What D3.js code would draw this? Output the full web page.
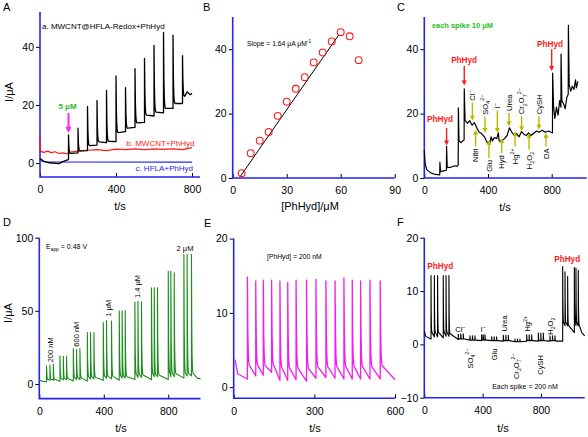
<!DOCTYPE html>
<html>
<head>
<meta charset="utf-8">
<script src="https://cdn.jsdelivr.net/npm/d3@7"></script>
<style>
  body { margin: 0; background: #fff; }
  text { font-family: "Liberation Sans", Arial, sans-serif; }
</style>
</head>
<body>
<script>
// ---------- data ----------
// A: current vs time, three electrodes
const aTicksX = [0, 400, 800];
const aTicksY = [0, 20, 40];
const aRed = [[0, 9.5], [3, 4], [20, 3.7], [40, 4.1], [60, 3.6], [80, 3.9], [100, 3.3], [120, 3.5], [140, 3.2],
  [160, 3.8], [200, 4.1], [250, 4.4], [300, 4.6], [350, 4.3], [400, 4.8], [450, 4.6], [500, 4.9],
  [550, 4.6], [600, 4.9], [650, 4.7], [700, 4.9], [750, 4.6], [800, 5.3]];
const aBlue = [[0, 1.6], [8, 0.7], [30, 0.4], [800, 0.35]];
const aBlackLead = [[0, 1.6], [20, 0.6], [50, 0.1], [100, -0.2], [120, 0.5], [148, 1.2]];
// [t, level before, peak, level after]
const aBlackSpikes = [[150, 1.2, 9.7, 3.3], [200, 3.5, 12, 4.2], [250, 4.3, 19.5, 6], [300, 6.2, 21.5, 7.3],
  [350, 7, 25, 7.5], [400, 7.4, 30, 10.5], [450, 10.8, 26, 12], [500, 12.3, 32.5, 13.8],
  [550, 14, 36, 16.5], [600, 16.2, 40.5, 17.5], [650, 17.3, 45, 18.8], [700, 18.8, 44, 20.5],
  [750, 20.5, 37, 23]];
const aBlackTail = [[775, 24.5], [790, 23.5], [800, 24]];
const aArrow = [150, 17.2, 10.4];

// B: calibration
const bTicksX = [0, 30, 60, 90];
const bTicksY = [0, 20, 40];
const bConc = [5, 10, 15, 20, 25, 30, 35, 40, 45, 50, 55, 60, 65, 70];
const bCurrent = [1.5, 7.7, 11.6, 14.3, 19.3, 23.7, 27.7, 31.3, 35.9, 39, 42.4, 45.3, 44, 36.6];
const bFit = [[4, 0.3], [59, 44.5]];

// C: interference study
const cTicksX = [0, 400, 800];
const cTicksY = [0, 20, 40];
const cTrace = [[0, 8.6], [5, 4.5], [15, 2.6], [40, 1.6], [70, 1.1], [97, 1.0], [98, 4.9], [102, 2.0], [120, 2.2],
  [139, 2.4], [140, 9.8], [144, 3.2], [170, 3.4], [190, 3.8], [205, 3.6], [213, 4.0], [214, 21.8], [218, 11.5],
  [230, 11], [240, 11.5], [250, 11.8], [251, 27.7], [256, 18], [270, 17], [285, 17.8], [300, 16.4], [315, 17.2],
  [330, 15.5], [345, 14.2], [360, 13.8], [380, 12.6], [395, 11], [410, 10.5], [420, 12.8], [428, 11.5],
  [440, 12.6], [455, 12.2], [465, 14], [470, 11.5], [490, 11.6], [505, 12.3], [520, 13.2], [535, 15.6],
  [550, 14.2], [565, 13.3], [580, 13.8], [595, 12.8], [610, 14.4], [625, 13.6], [640, 13.2], [655, 14],
  [670, 13.2], [690, 14], [705, 14.6], [720, 14.2], [740, 14.8], [760, 14.2], [780, 14.6], [805, 14],
  [806, 32.6], [812, 22], [820, 18.5], [830, 22], [840, 19.5], [850, 24], [858, 22], [859, 38.5], [864, 24],
  [875, 23], [885, 21.5], [895, 25], [904, 26], [905, 47.4], [910, 29], [920, 27], [930, 28.5], [940, 27.5],
  [950, 30.5], [955, 28], [965, 30]];
// [label, t, arrow start, arrow tip]
const cDown = [["Cl^{−}", 302, 23.4, 17.8], ["SO_{4}^{2−}", 381, 19, 14], ["I^{−}", 459, 21, 14],
  ["Urea", 532, 20.2, 16], ["Cr_{2}O_{7}^{2−}", 611, 19.2, 14.5], ["CySH", 720, 19.2, 15]];
const cUp = [["Nitri", 322, 9.8, 15], ["Glu", 406, 6.2, 11.9], ["Hyd", 486, 7.7, 12.4],
  ["Hg^{2+}", 570, 9.8, 14.5], ["H_{2}O_{2}", 658, 8.75, 14], ["DA", 764, 9.8, 14]];
// [arrow t, start, tip, label t, label level]
const cPhHyd = [[140, 15.5, 10.1, 99, 17.5], [251, 34.8, 28.7, 250, 35.8], [800, 40, 33.2, 790, 40.7]];

// D: successive additions
const dTicksX = [0, 400, 800];
const dTicksY = [0, 50, 100];
const dLead = [[0, 2.8], [20, 1.8], [44, 1.5]];
const dSpikes = [
  [45, 1.5, 12.5, 3], [66, 2.5, 13, 3], [87, 2.5, 13.6, 3],
  [128, 1.8, 19.3, 3.5], [149, 2.8, 18.9, 3.5], [169, 2.8, 18.9, 3.5],
  [211, 2, 24.3, 4], [231, 3, 23.5, 4], [252, 3, 24.3, 4],
  [298, 2, 35.2, 4.5], [318, 3.5, 35.2, 4.5], [339, 3.5, 35.2, 4.5],
  [397, 2.5, 42, 5], [417, 4, 43.4, 5], [448, 3.5, 43, 5],
  [496, 2.5, 50, 5], [514, 4, 50, 5], [533, 4, 50, 5],
  [593, 3, 56, 6], [612, 4.5, 56.5, 6], [634, 4.5, 56, 6],
  [696, 3, 65.7, 6], [713, 5, 66, 6], [733, 5, 66, 6],
  [800, 3, 77, 7], [816, 5, 77, 7], [837, 5, 76, 7],
  [897, 4, 88.6, 7], [917, 5.5, 88.5, 7], [944, 5.5, 88.6, 7]];
const dTail = [[980, 4], [1000, 3.5]];
// [label, t, level]
const dLabels = [["200 nM", 66, 14.8], ["600 nM", 228, 25.5], ["1 μM", 428, 46], ["1.4 μM", 608, 58.8]];

// E: repeatability
const eTicksX = [0, 300, 600];
const eTicksY = [0, 10, 20];
const eLead = [[5, 3.7], [15, 1.8], [50, 1.1]];
const eSpikes = [[51, 1.1, 14.8, 2.8], [82, 1.5, 14.3, 2.8], [110, 1.6, 14.4, 2.8], [141, 2.0, 14.4, 2.8],
  [172, 0.9, 14.3, 2.4], [201, 0.9, 14.1, 2.4], [232, 1.0, 14.4, 2.4], [271, 0.8, 14.4, 2.4],
  [306, 1.2, 14.5, 2.6], [343, 1.3, 14.3, 2.6], [377, 1.2, 14.3, 2.6], [410, 1.1, 14.7, 2.6],
  [441, 1.1, 14.4, 2.6], [472, 1.1, 14.3, 2.6], [507, 1.1, 14.4, 2.6], [545, 1.1, 14.3, 2.8]];
const eTail = [[600, 1.0]];

// F: interference at 200 nM
const fTicksX = [0, 400, 800];
const fTicksY = [-10, 0, 10, 20];
const fLead = [[0, 2.5], [10, 1.5], [45, 1.0]];
const fSpikes = [
  [46, 1.0, 12.9, 2.2], [69, 1.4, 12.9, 2.2], [91, 1.4, 12.9, 2.2],
  [130, 1.2, 12.9, 2.2], [149, 1.5, 12.9, 2.2], [169, 1.5, 12.9, 2.0],
  [233, 0.9, 1.9, 1.0], [250, 1.0, 2.0, 1.0], [267, 1.0, 2.0, 1.0],
  [313, 0.8, 1.6, 0.8], [330, 0.8, 1.6, 0.8], [347, 0.8, 1.6, 0.8],
  [393, 0.7, 1.8, 0.8], [404, 0.8, 1.8, 0.8], [416, 0.8, 1.8, 0.8],
  [462, 0.7, 1.4, 0.7], [479, 0.7, 1.4, 0.7], [496, 0.7, 1.4, 0.7],
  [542, 0.6, 1.7, 0.7], [559, 0.7, 1.7, 0.7], [576, 0.7, 1.7, 0.7],
  [622, 0.5, 1.0, 0.5], [639, 0.5, 1.0, 0.5], [656, 0.5, 1.0, 0.5],
  [702, 0.6, 1.8, 0.7], [719, 0.7, 1.8, 0.7], [736, 0.7, 1.8, 0.7],
  [782, 0.6, 2.1, 0.7], [799, 0.7, 2.1, 0.7], [816, 0.7, 2.1, 0.7],
  [862, 0.6, 1.6, 0.7], [879, 0.7, 1.6, 0.7], [896, 0.7, 1.6, 0.6],
  [949, 0.6, 14.6, 4], [965, 3.5, 13.6, 4], [983, 3.5, 12.7, 3.5],
  [1029, 2.2, 14.4, 4], [1040, 3.5, 14.3, 4], [1056, 3.5, 13.9, 3.5]];
const fTail = [[1080, 2.2], [1100, 1.6]];
// [label, t, level, placement]
const fLabels = [["Cl^{−}", 247, 2.3, "h"], ["I^{−}", 404, 2.3, "h"], ["Urea", 549, 2.4, "up"],
  ["Hg^{2+}", 709, 2.4, "up"], ["H_{2}O_{2}", 866, 1.8, "up"], ["SO_{4}^{2−}", 313, -0.8, "down"],
  ["Glu", 480, -0.8, "down"], ["Cr_{2}O_{7}^{2−}", 629, -1.7, "down"], ["CySH", 798, -2, "down"]];
const fPhHyd = [[110, 14.2], [980, 15.4]];

// ---------- drawing ----------
const BLUE = '#2424f0', RED = '#ff1a1a', OLIVE = '#b8b800', GREEN = '#22c022';
const svg = d3.select('body').append('svg').attr('width', 588).attr('height', 437);

function panel(o) {
  const x = d3.scaleLinear().domain(o.xd).range(o.xr);
  const y = d3.scaleLinear().domain(o.yd).range(o.yr);
  const g = svg.append('g');
  g.append('g').attr('transform', `translate(0,${o.yr[0]})`)
    .call(d3.axisBottom(x).tickValues(o.xt).tickSize(-4).tickPadding(9))
    .call(a => a.select('.domain').remove());
  g.append('g').attr('transform', `translate(${o.xr[0]},0)`)
    .call(d3.axisLeft(y).tickValues(o.yt).tickSize(4).tickPadding(2))
    .call(a => a.select('.domain').remove());
  g.selectAll('.tick text').attr('font-size', 10.5).attr('font-family', '"Liberation Sans", Arial, sans-serif').attr('fill', '#000');
  g.selectAll('.tick line').attr('stroke', '#000');
  g.append('path')
    .attr('d', `M${o.xr[0]},${o.yr[1]}V${o.yr[0]}H${o.xr[1]}`)
    .attr('fill', 'none').attr('stroke', BLUE).attr('stroke-width', 1.6);
  return { x, y, g };
}

function spikeTrace(lead, spikes, tail, span) {
  const pts = lead.slice();
  spikes.forEach(([t, before, peak, after]) => {
    pts.push([t, before], [t, peak]);
    for (let k = 1; k <= 6; k++) {
      const f = k / 6;
      pts.push([t + span * f, after + (peak - after) * Math.exp(-4.5 * f) * (1 - f)]);
    }
  });
  return pts.concat(tail);
}

function drawLine(p, pts, color, w) {
  p.g.append('path').datum(pts)
    .attr('d', d3.line().x(d => p.x(d[0])).y(d => p.y(d[1])))
    .attr('fill', 'none').attr('stroke', color).attr('stroke-width', w).attr('stroke-linejoin', 'round');
}

function rich(sel, str, fs) {
  const parts = str.match(/_\{[^}]*\}|\^\{[^}]*\}|[^_^]+/g);
  let off = 0;
  parts.forEach(s => {
    let shift = 0, txt = s, size = fs;
    if (s[0] === '_') { shift = fs * 0.3; txt = s.slice(2, -1); size = fs * 0.7; }
    else if (s[0] === '^') { shift = -fs * 0.45; txt = s.slice(2, -1); size = fs * 0.7; }
    sel.append('tspan').attr('dy', shift - off).attr('font-size', size).text(txt);
    off = shift;
  });
  return sel;
}

function label(g, x, y, str, o = {}) {
  const fs = o.size || 8;
  const t = g.append('text').attr('x', x).attr('y', y).attr('font-size', fs)
    .attr('fill', o.color || '#000').attr('text-anchor', o.anchor || 'start')
    .attr('font-weight', o.bold ? 'bold' : 'normal');
  return rich(t, str, fs);
}

// vertical text, reads bottom to top; cx is the column centre
function vlabel(g, cx, y, str, anchor, fs = 7) {
  const t = g.append('text').attr('transform', `translate(${cx + fs * 0.35},${y}) rotate(-90)`)
    .attr('font-size', fs).attr('text-anchor', anchor).attr('fill', '#000');
  return rich(t, str, fs);
}

function arrow(g, x, y1, y2, color, w, head) {
  const dir = y2 > y1 ? 1 : -1;
  g.append('line').attr('x1', x).attr('x2', x).attr('y1', y1).attr('y2', y2 - dir * head * 0.8)
    .attr('stroke', color).attr('stroke-width', w);
  g.append('path')
    .attr('d', `M${x - head / 2},${y2 - dir * head}L${x + head / 2},${y2 - dir * head}L${x},${y2}Z`)
    .attr('fill', color);
}

function title(g, x, y, txt) {
  g.append('text').attr('x', x).attr('y', y).attr('font-size', 11).attr('text-anchor', 'middle').text(txt);
}
function yTitle(g, x, y, txt) {
  g.append('text').attr('transform', `translate(${x},${y}) rotate(-90)`).attr('font-size', 11)
    .attr('text-anchor', 'middle').text(txt);
}
function letter(x, y, txt) {
  svg.append('text').attr('x', x).attr('y', y).attr('font-size', 11).text(txt);
}

// ----- A -----
const A = panel({ xd: [0, 842], xr: [40, 200], yd: [-4.8, 52], yr: [177, 12], xt: aTicksX, yt: aTicksY });
drawLine(A, aBlue, BLUE, 1.2);
drawLine(A, aRed, RED, 1.2);
drawLine(A, spikeTrace(aBlackLead, aBlackSpikes, aBlackTail, 12), '#000', 1.3);
arrow(A.g, A.x(aArrow[0]), A.y(aArrow[1]), A.y(aArrow[2]), '#ff20ff', 2, 6);
label(A.g, A.x(145), A.y(18.6), '5 μM', { color: GREEN, bold: true, anchor: 'middle' });
label(A.g, 42, 28.5, 'a. MWCNT@HFLA-Redox+PhHyd');
label(A.g, 194.5, 145.7, 'b. MWCNT+PhHyd', { color: RED, anchor: 'end' });
label(A.g, 193, 170.5, 'c. HFLA+PhHyd', { color: BLUE, anchor: 'end' });
title(A.g, 120, 210, 't/s');
yTitle(A.g, 13, 92, 'I/μA');
letter(3, 11, 'A');

// ----- B -----
const B = panel({ xd: [0, 90], xr: [232.7, 394.7], yd: [0, 50], yr: [178, 17], xt: bTicksX, yt: bTicksY });
drawLine(B, bFit, '#000', 1);
B.g.selectAll('circle.pt').data(bConc).enter().append('circle').attr('class', 'pt')
  .attr('cx', d => B.x(d)).attr('cy', (d, i) => B.y(bCurrent[i])).attr('r', 3.4)
  .attr('fill', 'none').attr('stroke', RED).attr('stroke-width', 1.1);
label(B.g, 247, 46, 'Slope = 1.64 μA μM^{-1}', { size: 6.8 });
title(B.g, 310, 210, '[PhHyd]/μM');
letter(203, 11, 'B');

// ----- C -----
const C = panel({ xd: [0, 1020], xr: [424.3, 586.7], yd: [0, 50], yr: [178, 17], xt: cTicksX, yt: cTicksY });
drawLine(C, cTrace, '#000', 1.2);
cDown.forEach(([name, t, a, b]) => {
  arrow(C.g, C.x(t), C.y(a), C.y(b), OLIVE, 1.4, 5);
  vlabel(C.g, C.x(t), C.y(a) - 2, name, 'start', 7.6);
});
cUp.forEach(([name, t, a, b]) => {
  arrow(C.g, C.x(t), C.y(a), C.y(b), OLIVE, 1.4, 5);
  vlabel(C.g, C.x(t), C.y(a) + 2, name, 'end', 7.6);
});
cPhHyd.forEach(([t, a, b, lt, ly]) => {
  arrow(C.g, C.x(t), C.y(a), C.y(b), RED, 1.4, 5);
  label(C.g, C.x(lt), C.y(ly), 'PhHyd', { color: RED, bold: true, anchor: 'middle', size: 8.2 });
});
label(C.g, 432, 27.5, 'each spike 10 μM', { color: GREEN, bold: true, size: 7.4 });
title(C.g, 505, 211, 't/s');
letter(397, 11, 'C');

// ----- D -----
const D = panel({ xd: [0, 1000], xr: [39.3, 200.5], yd: [-10, 100], yr: [398.6, 237.7], xt: dTicksX, yt: dTicksY });
drawLine(D, spikeTrace(dLead, dSpikes, dTail, 12), '#1e8c1e', 1.1);
dLabels.forEach(([name, t, v]) => vlabel(D.g, D.x(t), D.y(v), name, 'start', 7.5));
label(D.g, D.x(904), D.y(91), '2 μM', { anchor: 'middle', size: 7.5 });
label(D.g, 46, 248.5, 'E_{app} = 0.48 V', { size: 7 });
title(D.g, 121, 432, 't/s');
yTitle(D.g, 12, 313, 'I/μA');
letter(3, 226, 'D');

// ----- E -----
const E = panel({ xd: [0, 600], xr: [233.7, 395], yd: [-1.5, 20], yr: [398.3, 238.6], xt: eTicksX, yt: eTicksY });
drawLine(E, spikeTrace(eLead, eSpikes, eTail, 10), '#f01ef0', 1.3);
label(E.g, 267, 258.5, '[PhHyd] = 200 nM', { size: 6.8 });
title(E.g, 315, 432, 't/s');
letter(204, 227, 'E');

// ----- F -----
const F = panel({ xd: [0, 1100], xr: [424.3, 584.7], yd: [-10, 20], yr: [397.7, 237.7], xt: fTicksX, yt: fTicksY });
drawLine(F, spikeTrace(fLead, fSpikes, fTail, 8), '#000', 1.1);
fLabels.forEach(([name, t, v, kind]) => {
  if (kind === 'h') label(F.g, F.x(t), F.y(v), name, { anchor: 'middle', size: 7.5 });
  else vlabel(F.g, F.x(t), F.y(v), name, kind === 'up' ? 'start' : 'end', 7.5);
});
fPhHyd.forEach(([t, v]) => label(F.g, F.x(t), F.y(v), 'PhHyd', { color: RED, bold: true, anchor: 'middle', size: 8.2 }));
label(F.g, 525, 388.5, 'Each spike = 200 nM', { anchor: 'middle', size: 7 });
title(F.g, 503, 432, 't/s');
letter(397, 226, 'F');
</script>
</body>
</html>
